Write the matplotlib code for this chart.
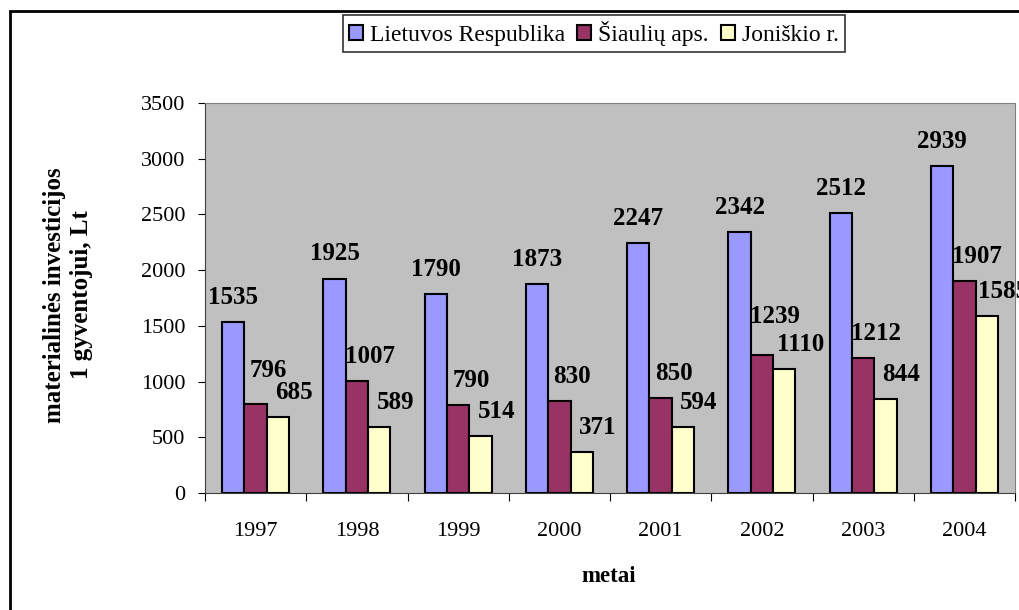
import numpy as np
import matplotlib.pyplot as plt
from matplotlib.patches import Rectangle

plt.rcParams['font.family'] = ['Liberation Serif', 'DejaVu Serif']

years = ['1997', '1998', '1999', '2000', '2001', '2002', '2003', '2004']
lietuva = [1535, 1925, 1790, 1873, 2247, 2342, 2512, 2939]
siauliai = [796, 1007, 790, 830, 850, 1239, 1212, 1907]
joniskis = [685, 589, 514, 371, 594, 1110, 844, 1585]

# name, values, colour, label shift right (px)
series = [
    ('Lietuvos Respublika', lietuva, '#9999FF', 0),
    ('Šiaulių aps.', siauliai, '#993366', 13),
    ('Joniškio r.', joniskis, '#FFFFCC', 16),
]
# extra lift for labels that would collide (series index, year index) -> px
lift = {(1, 0): 9, (1, 5): 14}

fig = plt.figure(figsize=(10.19, 6.10), dpi=100)
fig.patches.append(Rectangle((10 / 1019, -0.1), 1.2, 1 - 11 / 610 + 0.1,
                             transform=fig.transFigure, fill=False,
                             edgecolor='black', linewidth=2))
ax = fig.add_axes([205 / 1019, 1 - 493 / 610, 810 / 1019, 390 / 610])
ax.set_facecolor('#C0C0C0')

x = np.arange(len(years))
w = 0.22
for i, (name, vals, col, dx) in enumerate(series):
    pos = x - 0.5 + 0.17 + w / 2 + i * w
    ax.bar(pos, vals, w, color=col, edgecolor='black', linewidth=1.5, label=name)
    for j, (p, v) in enumerate(zip(pos, vals)):
        dy = 18 + lift.get((i, j), 0)
        ax.annotate(str(v), (p, v), xytext=(dx, dy), textcoords='offset pixels',
                    ha='center', va='baseline', fontsize=18, fontweight='bold',
                    annotation_clip=False)

ax.set_xlim(-0.5, len(years) - 0.5)
ax.set_ylim(0, 3500)
ax.set_yticks(range(0, 3501, 500))
ax.set_xticks(np.arange(len(years) + 1) - 0.5)
ax.set_xticklabels([])
ax.set_xticks(x, minor=True)
ax.set_xticklabels(years, minor=True, fontsize=16)
ax.tick_params(axis='x', which='minor', length=0, pad=21)
ax.tick_params(axis='x', which='major', length=6, direction='out')
ax.tick_params(axis='y', length=5, direction='out', labelsize=16, pad=9)
for s in ['top', 'right']:
    ax.spines[s].set_color('#808080')
ax.spines['left'].set_color('#404040')
ax.spines['bottom'].set_color('#404040')

fig.text(609 / 1019, 1 - 576 / 610, 'metai', fontsize=16.5, fontweight='bold',
         ha='center', va='center')
fig.text(68 / 1019, 1 - 295 / 610, 'materialinės investicijos\n1 gyventojui, Lt',
         fontsize=18, fontweight='bold', rotation=90, ha='center', va='center',
         multialignment='center', linespacing=1.25)

leg = fig.legend(loc='upper center', bbox_to_anchor=(594 / 1019, 1 - 15 / 610),
                 ncol=3, fontsize=17, frameon=True, fancybox=False,
                 edgecolor='black', handlelength=0.6, handleheight=0.6,
                 handletextpad=0.3, columnspacing=0.5, borderpad=0.25,
                 borderaxespad=0)
leg.get_frame().set_linewidth(1.2)

fig.savefig('out.png', dpi=100)
